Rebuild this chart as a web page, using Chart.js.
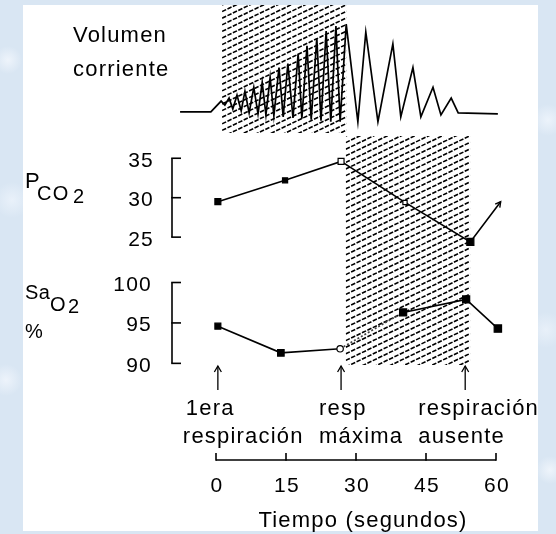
<!DOCTYPE html>
<html><head><meta charset="utf-8">
<script src="https://cdn.jsdelivr.net/npm/chart.js@4.4.1/dist/chart.umd.min.js"></script>
<style>
html,body{margin:0;padding:0;}
body{width:556px;height:534px;overflow:hidden;position:relative;background:#d9e6f3;
background-image:radial-gradient(circle at 8px 60px,#eef4fb 0,transparent 14px),radial-gradient(circle at 12px 200px,#e9f1fa 0,transparent 18px),radial-gradient(circle at 6px 380px,#edf3fb 0,transparent 16px),radial-gradient(circle at 548px 120px,#ecf3fb 0,transparent 16px),radial-gradient(circle at 546px 330px,#e8f0f9 0,transparent 18px),radial-gradient(circle at 550px 470px,#eef4fb 0,transparent 14px);}
#panel{position:absolute;left:23px;top:5px;width:515px;height:526px;background:#fff;}
canvas{position:absolute;left:0;top:0;}
</style></head><body><div id="panel"></div><canvas id="c" width="556" height="534"></canvas>
<script>
// ---- data ----
const volTime  = [-7.7,-1.1,1.1,1.9,2.8,3.6,4.5,5.4,6.2,7.1,8.1,9.0,9.9,10.7,11.6,12.4,13.5,14.4,15.4,16.5,17.6,18.4,19.5,20.4,21.6,22.5,23.6,24.6,25.7,26.6,27.9,30.4,32.1,34.7,37.9,39.6,42.2,43.9,46.5,48.2,50.4,51.9,60.4];
const volValue = [1,1,12,8,15,4,18,2,22,0,26,-1,31,-2,36,-3,46,-4,50,-5,60,-6,68,-7,76,-8,83,-9,88,-9,90,-9,82,-9,70,-4,46,-4,26,-2,15,0,-1];
const pco2Time  = [0.4, 14.8, 26.8, 40.5, 54.5, 61];
const pco2Value = [29.5, 32.2, 34.6, 29.4, 24.4, 29.5];
const sao2Time  = [0.4, 13.9, 26.6, 40.1, 53.6, 60.4];
const sao2Value = [94.6, 91.3, 91.8, 96.3, 97.9, 94.3];
const timeTicks = [0, 15, 30, 45, 60];
const pco2Ticks = [35, 30, 25];
const sao2Ticks = [100, 95, 90];
const hatchSpans = [[1.3, 28.0], [27.8, 54.5]];
const eventTimes = [0.4, 26.8, 53.4];
const eventLabels = [["1era", "respiración"], ["resp", "máxima"], ["respiración", "ausente"]];
const xTitle = "Tiempo (segundos)";

// ---- layout helpers ----
const AREA_TOP = 0, AREA_BOTTOM = 460;
function band(vHi, pHi, vLo, pLo) {
  const k = (vHi - vLo) / (pLo - pHi);
  return { min: vLo - (AREA_BOTTOM - pLo) * k, max: vHi + (pHi - AREA_TOP) * k };
}
const bandP = band(35, 154, 25, 234);
const bandS = band(100, 280, 90, 362);
const bandV = band(100, 8, 0, 108);
const hatchY = [[5, 133], [136, 365]];
const eventLabelDx = [-32, -22, -47];
const FONT = '"Liberation Sans", Arial, sans-serif';
const X_MIN = -10, X_MAX = 62, PX_PER_S = 280 / 60;

function pts(t, v) { return t.map((x, i) => ({ x, y: v[i] })); }

function hatch(ctx, x0, x1, y0, y1) {
  ctx.save();
  ctx.beginPath(); ctx.rect(x0, y0, x1 - x0, y1 - y0); ctx.clip();
  ctx.strokeStyle = '#000'; ctx.lineWidth = 1.6; ctx.setLineDash([4.5, 1.5]);
  const slope = 0.48, gap = 6.6, w = x1 - x0;
  for (let c = y0; c < y1 + w * slope + gap; c += gap) {
    ctx.beginPath(); ctx.moveTo(x0, c); ctx.lineTo(x1, c - w * slope); ctx.stroke();
  }
  ctx.restore();
}

const deco = {
  id: 'deco',
  beforeDatasetsDraw(chart) {
    const ctx = chart.ctx, xs = chart.scales.x;
    hatchSpans.forEach((s, i) => hatch(ctx, xs.getPixelForValue(s[0]), xs.getPixelForValue(s[1]), hatchY[i][0], hatchY[i][1]));
  },
  afterDatasetsDraw(chart) {
    const ctx = chart.ctx, xs = chart.scales.x;
    ctx.save();
    ctx.fillStyle = '#000'; ctx.strokeStyle = '#000';
    ctx.letterSpacing = '1.2px';
    // arrowhead at end of PCO2 line
    const m = chart.getDatasetMeta(1).data;
    const a = m[m.length - 2], b = m[m.length - 1];
    const ang = Math.atan2(b.y - a.y, b.x - a.x);
    ctx.lineWidth = 1.4;
    ctx.beginPath();
    ctx.moveTo(b.x - 6 * Math.cos(ang - 0.5), b.y - 6 * Math.sin(ang - 0.5));
    ctx.lineTo(b.x, b.y);
    ctx.lineTo(b.x - 6 * Math.cos(ang + 0.5), b.y - 6 * Math.sin(ang + 0.5));
    ctx.stroke();

    // y brackets
    function bracket(scale, ticks, bx, labelRight) {
      const yTop = scale.getPixelForValue(ticks[0]);
      const yBot = scale.getPixelForValue(ticks[ticks.length - 1]);
      ctx.lineWidth = 1.6;
      ctx.beginPath(); ctx.moveTo(bx, yTop); ctx.lineTo(bx, yBot); ctx.stroke();
      ctx.font = '21px ' + FONT; ctx.textAlign = 'right'; ctx.textBaseline = 'alphabetic';
      ticks.forEach(t => {
        const y = scale.getPixelForValue(t);
        ctx.beginPath(); ctx.moveTo(bx - 0.8, y); ctx.lineTo(bx + 9, y); ctx.stroke();
        ctx.fillText(String(t), labelRight, y + 8.5);
      });
    }
    bracket(chart.scales.yP, pco2Ticks, 172, 154);
    bracket(chart.scales.yS, sao2Ticks, 172, 152);

    // x axis
    const x0 = xs.getPixelForValue(timeTicks[0]), x1 = xs.getPixelForValue(timeTicks[timeTicks.length - 1]);
    const ay = 460;
    ctx.lineWidth = 1.6;
    ctx.beginPath(); ctx.moveTo(x0, ay); ctx.lineTo(x1, ay); ctx.stroke();
    ctx.textAlign = 'center'; ctx.textBaseline = 'alphabetic'; ctx.font = '21px ' + FONT;
    timeTicks.forEach(t => {
      const x = xs.getPixelForValue(t);
      ctx.beginPath(); ctx.moveTo(x, ay + 0.8); ctx.lineTo(x, ay - 7); ctx.stroke();
      ctx.fillText(String(t), x + 1, 492);
    });
    ctx.font = '22px ' + FONT;
    ctx.fillText(xTitle, 363, 527);

    // event arrows and labels
    ctx.lineWidth = 1.3;
    ctx.textAlign = 'left';
    eventTimes.forEach((t, i) => {
      const x = xs.getPixelForValue(t);
      ctx.beginPath(); ctx.moveTo(x, 390); ctx.lineTo(x, 366); ctx.stroke();
      ctx.beginPath(); ctx.moveTo(x - 3.5, 372); ctx.lineTo(x, 366); ctx.lineTo(x + 3.5, 372); ctx.stroke();
      ctx.fillText(eventLabels[i][0], x + eventLabelDx[i], 415);
      ctx.fillText(eventLabels[i][1], x + eventLabelDx[i] - (i === 0 ? 3 : 0), 443);
    });

    // side labels
    ctx.font = '22px ' + FONT;
    ctx.fillText('Volumen', 73, 42);
    ctx.fillText('corriente', 73, 76);
    ctx.font = '22px ' + FONT;
    ctx.fillText('P', 25, 188);
    ctx.font = '20px ' + FONT;
    ctx.fillText('CO', 37, 200);
    ctx.fillText('2', 73, 203);
    ctx.letterSpacing = '0.5px';
    ctx.font = '20px ' + FONT;
    ctx.fillText('Sa', 25, 299);
    ctx.fillText('O', 50, 311);
    ctx.fillText('2', 68, 313);
    ctx.fillText('%', 25, 338);
    ctx.restore();
  }
};

new Chart(document.getElementById('c'), {
  type: 'line',
  data: {
    datasets: [
      { data: pts(volTime, volValue), yAxisID: 'yV', borderColor: '#000', borderWidth: 1.7, pointRadius: 0, tension: 0, clip: false, borderJoinStyle: 'miter' },
      { data: pts(pco2Time, pco2Value), yAxisID: 'yP', borderColor: '#000', borderWidth: 1.6, tension: 0, clip: false,
        pointStyle: 'rect', pointRadius: [4.2, 3.6, 4.2, 3, 5, 0],
        pointBackgroundColor: ['#000', '#000', '#fff', '#fff', '#000', '#000'], pointBorderColor: '#000', pointBorderWidth: 1.2 },
      { data: pts(sao2Time, sao2Value), yAxisID: 'yS', borderColor: '#000', borderWidth: 1.6, tension: 0, clip: false,
        pointStyle: ['rect', 'rect', 'circle', 'rect', 'rect', 'rect'], pointRadius: [4.2, 4.6, 3.2, 5, 5, 5.2],
        pointBackgroundColor: ['#000', '#000', '#fff', '#000', '#000', '#000'], pointBorderColor: '#000', pointBorderWidth: 1.2,
        segment: { borderDash: c => c.p0DataIndex === 2 ? [2, 2] : undefined, borderColor: c => c.p0DataIndex === 2 ? '#444' : undefined } }
    ]
  },
  options: {
    responsive: false, animation: false, devicePixelRatio: 1,
    layout: { padding: { left: 216 + X_MIN * PX_PER_S, right: 556 - (216 + X_MAX * PX_PER_S), top: 0, bottom: 74 } },
    plugins: { legend: { display: false }, tooltip: { enabled: false }, title: { display: false } },
    scales: {
      x: { type: 'linear', min: X_MIN, max: X_MAX, display: false },
      yV: { type: 'linear', display: false, min: bandV.min, max: bandV.max },
      yP: { type: 'linear', display: false, min: bandP.min, max: bandP.max },
      yS: { type: 'linear', display: false, min: bandS.min, max: bandS.max }
    }
  },
  plugins: [deco]
});
</script>
</body></html>
